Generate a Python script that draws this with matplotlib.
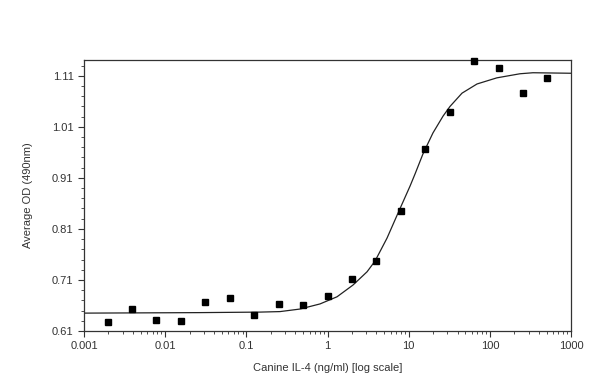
import numpy as np
import matplotlib.pyplot as plt
from matplotlib.ticker import FixedLocator, NullFormatter

plt.rcParams['font.family'] = ['Liberation Sans', 'DejaVu Sans']

# measured points
conc = [0.00195, 0.0039, 0.0078, 0.0156, 0.03125, 0.0625, 0.125, 0.25, 0.5, 1,
        2, 4, 8, 16, 32, 64, 128, 256, 512]
od = [0.628, 0.653, 0.631, 0.629, 0.667, 0.675, 0.641, 0.663, 0.661, 0.679,
      0.712, 0.747, 0.845, 0.967, 1.039, 1.139, 1.126, 1.077, 1.106]

# fitted curve
fit_x = [0.001, 0.0269, 0.147, 0.26, 0.458, 0.808, 1.31, 2.06, 3.07, 3.85,
         5.41, 7.39, 10.4, 12.0, 15.0, 19.9, 26.5, 32.3, 45.4, 69.5, 122, 235,
         340, 1000]
fit_y = [0.645, 0.646, 0.647, 0.648, 0.653, 0.663, 0.677, 0.700, 0.726, 0.747,
         0.792, 0.841, 0.894, 0.918, 0.957, 0.998, 1.031, 1.050, 1.076, 1.094,
         1.106, 1.114, 1.116, 1.115]

xticks = [0.001, 0.01, 0.1, 1, 10, 100, 1000]
xtick_labels = ['0.001', '0.01', '0.1', '1', '10', '100', '1000']
yticks = [0.61, 0.71, 0.81, 0.91, 1.01, 1.11]

fig = plt.figure(figsize=(6, 3.85), dpi=100)
ax = fig.add_axes([0.14, 0.1403, 0.8117, 0.7039])

ax.plot(fit_x, fit_y, color='#222222', linewidth=0.9)
ax.plot(conc, od, 's', color='black', markersize=5, clip_on=False, zorder=3)

ax.set_xscale('log')
ax.set_xlim(0.001, 1000)
ax.set_ylim(0.61, 1.141)

ax.xaxis.set_major_locator(FixedLocator(xticks))
ax.set_xticklabels(xtick_labels)
ax.xaxis.set_minor_locator(FixedLocator(
    [m * 10.0 ** e for e in range(-3, 3) for m in range(2, 10)]))
ax.xaxis.set_minor_formatter(NullFormatter())

ax.yaxis.set_major_locator(FixedLocator(yticks))
ax.set_yticklabels(['%.2f' % v for v in yticks])
ax.yaxis.set_minor_locator(FixedLocator(np.arange(0.63, 1.141, 0.02)))

ax.tick_params(which='major', direction='out', length=4, width=0.8,
               labelsize=8, color='#333333', labelcolor='#333333')
ax.tick_params(which='minor', direction='out', length=2, width=0.6, color='#333333')

for s in ax.spines.values():
    s.set_color('#333333')
    s.set_linewidth(0.9)

ax.set_xlabel('Canine IL-4 (ng/ml) [log scale]', fontsize=8, color='#333333', labelpad=8)
ax.set_ylabel('Average OD (490nm)', fontsize=8, color='#333333', labelpad=14)

fig.savefig('out.png', dpi=100)
